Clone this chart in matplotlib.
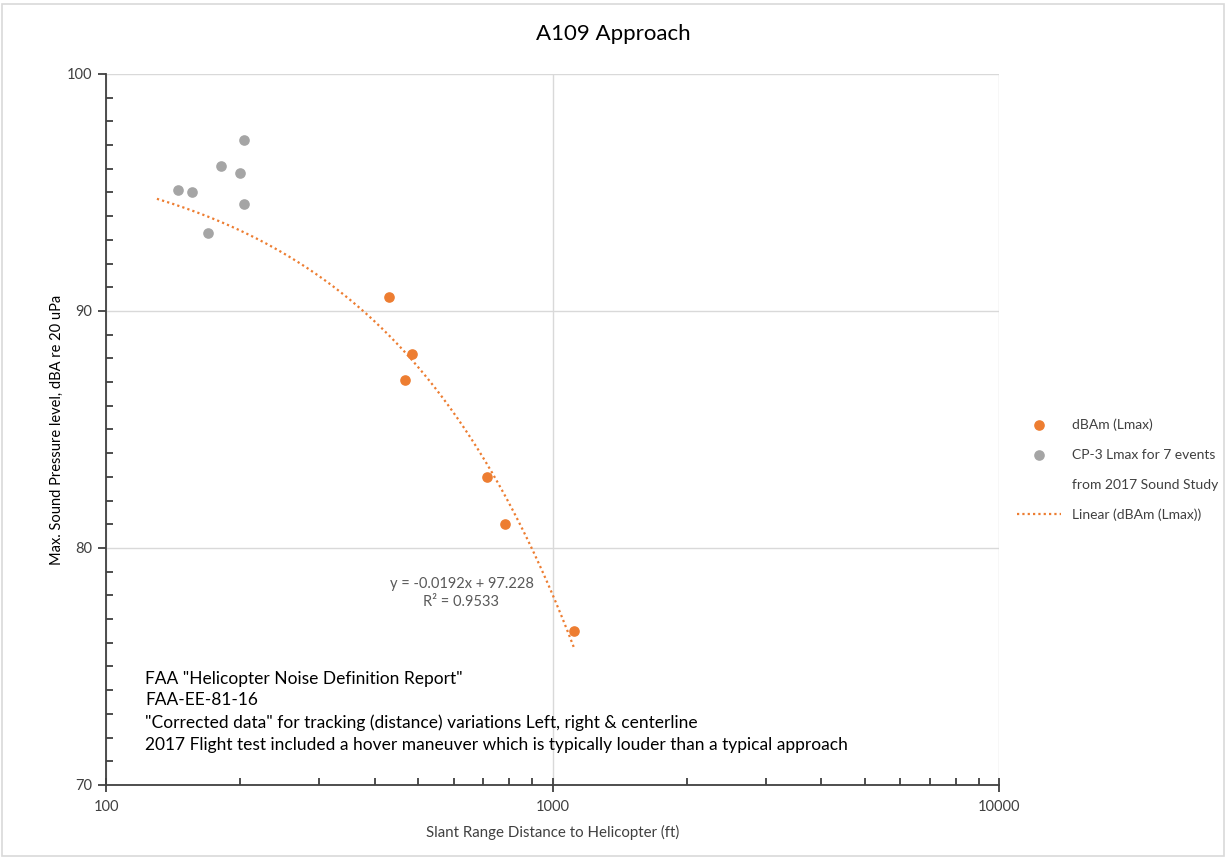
import numpy as np
import matplotlib.pyplot as plt
from matplotlib.lines import Line2D
from matplotlib.patches import Rectangle
from matplotlib.ticker import FixedLocator, LogLocator, NullFormatter

plt.rcParams['font.family'] = ['Lato', 'DejaVu Sans']

# FAA corrected data, approach (slant range ft, dBA Lmax)
faa_dist = [430, 484, 467, 712, 781, 1114]
faa_lmax = [90.6, 88.2, 87.1, 83.0, 81.0, 76.5]

# CP-3 Lmax, 2017 sound study (7 events)
cp3_dist = [145, 156, 169, 181, 200, 204, 204]
cp3_lmax = [95.1, 95.0, 93.3, 96.1, 95.8, 97.2, 94.5]

# Excel linear trendline
slope = -0.0192
intercept = 97.228
r2 = 0.9533
trend_from, trend_to = 130, 1120

orange = '#ED7D31'
grey = '#A5A5A5'
axis_col = '#404040'

fig = plt.figure(figsize=(12.26, 8.59), dpi=100)
ax = fig.add_axes([0.0865, 0.0862, 0.7285, 0.8277])

ax.set_xscale('log')
ax.set_xlim(100, 10000)
ax.set_ylim(70, 100)

h1 = ax.scatter(faa_dist, faa_lmax, s=44, color=orange, zorder=3)
h2 = ax.scatter(cp3_dist, cp3_lmax, s=44, color=grey, zorder=3)

xt = np.linspace(trend_from, trend_to, 300)
h3, = ax.plot(xt, slope * xt + intercept, color=orange, ls=(0, (1, 1.4)),
              lw=1.6, zorder=2)

# axes styling
ax.set_yticks([70, 80, 90, 100])
ax.yaxis.set_minor_locator(FixedLocator([v for v in range(70, 101) if v % 10]))
ax.xaxis.set_major_locator(FixedLocator([100, 1000, 10000]))
ax.xaxis.set_minor_locator(LogLocator(base=10, subs=range(2, 10)))
ax.xaxis.set_minor_formatter(NullFormatter())
ax.set_xticklabels(['100', '1000', '10000'])

ax.grid(True, which='major', color='#D9D9D9', lw=1)
ax.set_axisbelow(True)
for s in ['top', 'right']:
    ax.spines[s].set_visible(False)
for s in ['left', 'bottom']:
    ax.spines[s].set_color(axis_col)
    ax.spines[s].set_linewidth(1.3)

ax.tick_params(axis='y', which='major', direction='out', length=6, width=1.3,
               color=axis_col, labelsize=10.5, labelcolor='#404040', pad=4)
ax.tick_params(axis='y', which='minor', direction='in', length=5, width=1.3,
               color=axis_col)
ax.tick_params(axis='x', which='major', direction='inout', length=10, width=1.3,
               color=axis_col, labelsize=10.5, labelcolor='#404040', pad=6)
ax.tick_params(axis='x', which='minor', direction='in', length=5, width=1.3,
               color=axis_col)

ax.set_xlabel('Slant Range Distance to Helicopter (ft)', fontsize=10.8,
              color='#404040', labelpad=8)
ax.set_ylabel('Max. Sound Pressure level, dBA re 20 uPa', fontsize=10.5,
              color='#000000', labelpad=2)

fig.text(0.5, 0.961, 'A109 Approach', ha='center', va='center', fontsize=16,
         color='#000000')

ax.text(625, 78.1, 'y = -0.0192x + 97.228\nR\u00b2 = 0.9533', ha='center',
        va='center', fontsize=10.5, color='#595959', linespacing=1.3)

notes = ['FAA "Helicopter Noise Definition Report"',
         'FAA-EE-81-16',
         '"Corrected data" for tracking (distance) variations Left, right & centerline',
         '2017 Flight test included a hover maneuver which is typically louder than a typical approach']
ax.text(0.044, 0.045, '\n'.join(notes), transform=ax.transAxes, ha='left',
        va='bottom', fontsize=12.5, color='#000000', linespacing=1.45)

blank = Line2D([], [], linestyle='none')
leg = ax.legend([h1, h2, blank, h3],
                ['dBAm (Lmax)', 'CP-3 Lmax for 7 events', 'from 2017 Sound Study',
                 'Linear (dBAm (Lmax))'],
                loc='upper left', bbox_to_anchor=(0.8295, 0.5134),
                bbox_transform=fig.transFigure, frameon=False, fontsize=10,
                labelspacing=1.3, handlelength=3.2, handletextpad=0.75,
                borderpad=0, borderaxespad=0)
for t in leg.get_texts():
    t.set_color('#404040')

fig.patches.append(Rectangle((0.002, 0.004), 0.996, 0.991, transform=fig.transFigure,
                             fill=False, edgecolor='#D9D9D9', lw=1.2))

fig.savefig('out.png', dpi=100)
